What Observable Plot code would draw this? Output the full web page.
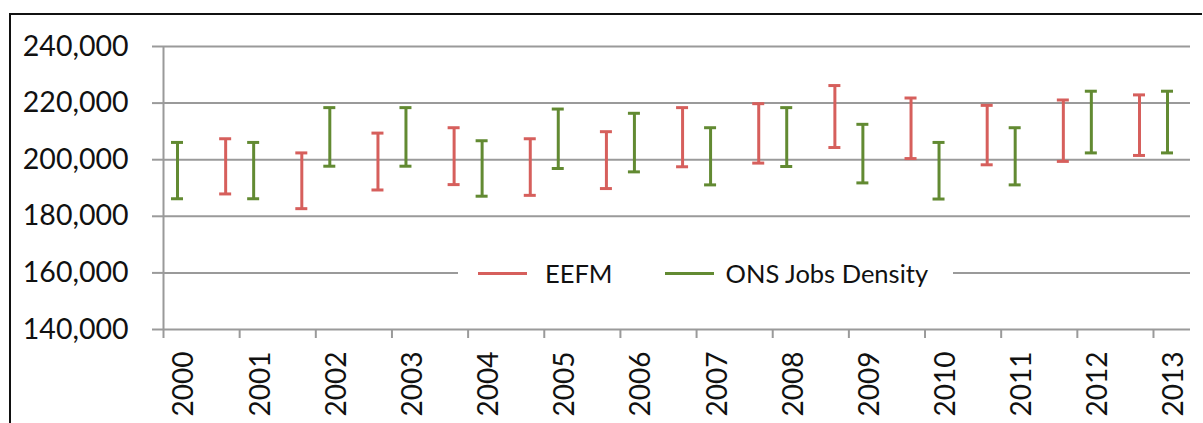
<!DOCTYPE html>
<html>
<head>
<meta charset="utf-8">
<script src="https://cdn.jsdelivr.net/npm/d3@7"></script>
<script src="https://cdn.jsdelivr.net/npm/@observablehq/plot@0.6"></script>
<style>
  html, body { margin: 0; padding: 0; background: #fff; }
  #wrap { position: relative; width: 1203px; height: 423px; overflow: hidden; font-family: Lato, "Liberation Sans", sans-serif; }
  #frame { position: absolute; left: 9px; top: 13px; width: 1191px; height: 420px; border-left: 2px solid #111; border-top: 2px solid #111; }
  #chart { position: absolute; left: 0; top: 0; }
  #legend { position: absolute; left: 458px; top: 257px; width: 495px; height: 32px; background: #fff; display: flex; align-items: center; font-size: 25.5px; color: #111; }
  .sw { display: inline-block; width: 49px; height: 3px; }
</style>
</head>
<body>
<div id="wrap">
  <div id="frame"></div>
  <div id="chart"></div>
  <div id="legend">
    <span class="sw" style="margin-left:20px;background:#d65f5c"></span>
    <span style="margin-left:18px">EEFM</span>
    <span class="sw" style="margin-left:52px;background:#628a32"></span>
    <span style="margin-left:12px">ONS Jobs Density</span>
  </div>
</div>
<script>
const years = [2000, 2001, 2002, 2003, 2004, 2005, 2006, 2007, 2008, 2009, 2010, 2011, 2012, 2013];
const eefmLow  = [null, 187900, 182700, 189300, 191200, 187400, 189800, 197500, 198800, 204300, 200400, 198200, 199400, 201500];
const eefmHigh = [null, 207400, 202400, 209400, 211300, 207400, 209900, 218400, 219800, 226200, 221800, 219200, 221100, 222900];
const onsLow   = [186200, 186200, 197700, 197700, 187100, 196900, 195700, 191100, 197600, 191800, 186100, 191100, 202400, 202400];
const onsHigh  = [206100, 206100, 218400, 218400, 206700, 217900, 216400, 211300, 218400, 212500, 206100, 211300, 224200, 224200];
const yTicks = [140000, 160000, 180000, 200000, 220000, 240000];
const seriesNames = ["EEFM", "ONS Jobs Density"];
const seriesColors = ["#d65f5c", "#628a32"];

const rows = [];
years.forEach((yr, i) => {
  if (eefmLow[i] != null) rows.push({year: yr, series: seriesNames[0], lo: eefmLow[i], hi: eefmHigh[i]});
  if (onsLow[i] != null) rows.push({year: yr, series: seriesNames[1], lo: onsLow[i], hi: onsHigh[i]});
});
const eefm = rows.filter(d => d.series === seriesNames[0]);
const ons = rows.filter(d => d.series === seriesNames[1]);

function bars(data, color, dx) {
  return [
    Plot.ruleX(data, {x: "year", y1: "lo", y2: "hi", stroke: color, strokeWidth: 3, dx}),
    Plot.ruleY(data, {x1: "year", x2: "year", y: "hi", stroke: color, strokeWidth: 3, dx, insetLeft: -6, insetRight: -6}),
    Plot.ruleY(data, {x1: "year", x2: "year", y: "lo", stroke: color, strokeWidth: 3, dx, insetLeft: -6, insetRight: -6})
  ];
}

const chart = Plot.plot({
  width: 1203,
  height: 423,
  marginLeft: 163,
  marginRight: 13,
  marginTop: 46,
  marginBottom: 94,
  style: {fontFamily: "Lato, 'Liberation Sans', sans-serif", background: "transparent", color: "#111"},
  x: {type: "linear", domain: [2000, 2013.486], ticks: years, tickFormat: d => String(d)},
  y: {domain: [140000, 240000], ticks: yTicks, tickFormat: d3.format(",")},
  marks: [
    Plot.ruleY(yTicks, {stroke: "#9a9a9a", strokeWidth: 2}),
    Plot.ruleX([2000], {stroke: "#9a9a9a", strokeWidth: 2}),
    Plot.axisY({ticks: yTicks, tickFormat: d3.format(","), tickSize: 11, tickPadding: 24, fontSize: 28.5, stroke: "#9a9a9a", strokeWidth: 2, label: null}),
    Plot.axisX({ticks: years, tickFormat: () => "", tickSize: 9, stroke: "#9a9a9a", strokeWidth: 2, label: null}),
    Plot.axisX({ticks: years, tickFormat: d => String(d), tickSize: 0, tickPadding: 22, tickRotate: -90, fontSize: 28, dx: 21, label: null}),
    ...bars(eefm, seriesColors[0], -14),
    ...bars(ons, seriesColors[1], 14)
  ]
});
document.getElementById("chart").appendChild(chart);
</script>
</body>
</html>
